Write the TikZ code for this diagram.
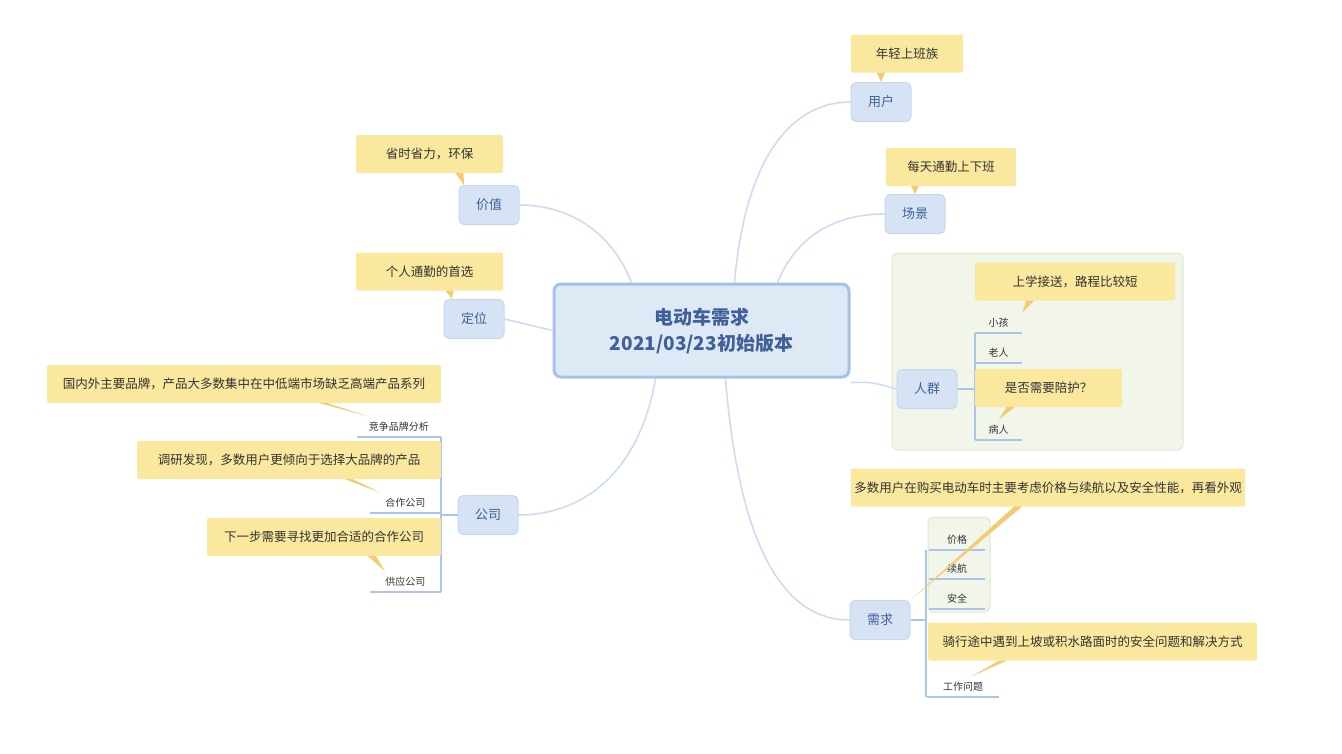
\documentclass[tikz,border=0pt]{standalone}
\usepackage{fontspec}
\setmainfont{Noto Sans CJK SC}
\definecolor{topicfill}{HTML}{D6E3F4}
\definecolor{topicline}{HTML}{C6D8EF}
\definecolor{topictext}{HTML}{40609A}
\definecolor{callfill}{HTML}{F9E89E}
\definecolor{calltext}{HTML}{333333}
\definecolor{ptrcolor}{HTML}{F3CB70}
\definecolor{areafill}{HTML}{F1F5EA}
\definecolor{arealine}{HTML}{DFE8D1}
\definecolor{linkcolor}{HTML}{CCDCF1}
\definecolor{leafline}{HTML}{A9C6EA}
\definecolor{mainline}{HTML}{A3C1EA}
%% callout pointer: callout node, shift along its bottom, target point
\newcommand{\callptr}[3]{\fill[ptrcolor] ([xshift=#2-4]#1.south) -- (#3) -- ([xshift=#2+4]#1.south) -- cycle;}

\begin{document}
\begin{tikzpicture}[x=1pt, y=-1pt,
    link/.style={linkcolor, line width=1.6pt},
    topic/.style={fill=topicfill, draw=topicline, line width=1pt, rounded corners=5pt,
      minimum width=60, minimum height=39, text=topictext, font=\fontsize{13}{15}\selectfont},
    callout/.style={fill=callfill, rounded corners=2pt, minimum height=38,
      text=calltext, font=\fontsize{12.5}{15}\selectfont},
    leaf/.style={inner sep=2pt, minimum height=20, text=calltext, font=\fontsize{10}{12}\selectfont},
    leafbar/.style={leafline, line width=1.2pt},
    area/.style={fill=areafill, draw=arealine, line width=1pt, rounded corners=6pt}]
  \useasboundingbox (0,0) rectangle (1342,753);
  %% boundaries behind everything
  \draw[area] (892,253) rectangle (1183,450);
  \draw[area] (928,517) rectangle (990,612);

  %% central topic
  \node[fill=topicfill!80!white, draw=mainline, line width=3pt, rounded corners=7pt,
    minimum width=295, minimum height=93, align=center, text=topictext,
    font=\fontsize{19}{26}\selectfont\bfseries] (central) at (701.5,330.5)
    {电动车需求\\2021/03/23初始版本};

  %% main topics
  \node[topic] (user)  at (881,102) {用户};
  \node[topic] (scene) at (915,214) {场景};
  \node[topic] (crowd) at (927,389) {人群};
  \node[topic] (need)  at (880,620) {需求};
  \node[topic] (value) at (489,205) {价值};
  \node[topic] (pos)   at (474,319) {定位};
  \node[topic] (firm)  at (488,515) {公司};

  \draw[link] ([xshift=33]central.north) .. controls (745,160) and (790,102) .. (user.west);
  \draw[link] ([xshift=76]central.north) .. controls (800,228) and (845,214) .. (scene.west);
  \draw[link] ([yshift=-4]central.south east) .. controls (872,382) .. (crowd.west);
  \draw[link] ([xshift=24]central.south) .. controls (740,560) and (790,620) .. (need.west);
  \draw[link] ([xshift=-70]central.north) .. controls (610,228) and (565,205) .. (value.east);
  \draw[link] (central.west) -- (pos.east);
  \draw[link] ([xshift=-46]central.south) .. controls (640,470) and (585,515) .. (firm.east);

  %% sub topics
  \foreach \t/\y/\n in {小孩/333/a, 老人/363/b, 病人/440/c}
    \node[leaf, anchor=south west, minimum width=47] (crowd\n) at (975,\y) {\t};
  \foreach \t/\y/\n in {价格/550/a, 续航/579/b, 安全/609/c}
    \node[leaf, anchor=south west, minimum width=56] (need\n) at (929,\y) {\t};
  \node[leaf, anchor=south west, minimum width=72] (needd) at (927,697) {工作问题};
  \node[leaf, anchor=south east, minimum width=84] (firma) at (441,437) {竞争品牌分析};
  \node[leaf, anchor=south east, minimum width=71] (firmb) at (441,513) {合作公司};
  \node[leaf, anchor=south east, minimum width=71] (firmc) at (441,592) {供应公司};

  \foreach \n in {a,b,c} {
    \draw[leafbar] (crowd\n.south west) -- (crowd\n.south east);
    \draw[leafbar] (need\n.south west) -- (need\n.south east);
    \draw[leafbar] (firm\n.south west) -- (firm\n.south east);
  }
  \draw[leafbar] (needd.south west) -- (needd.south east);
  \draw[leafbar] (crowda.south west) -- (crowdc.south west);
  \draw[leafbar] (crowd.east) -- (crowd.east -| crowda.south west);
  \draw[leafbar] ([xshift=-3]needa.south west) -- ([xshift=-1]needd.south west);
  \draw[leafbar] (need.east) -- (need.east -| needd.south west);
  \draw[leafbar] (firma.south east) -- (firmc.south east);
  \draw[leafbar] (firm.west) -- (firm.west -| firma.south east);

  %% callouts
  \node[callout, minimum width=112] (cuser)  at (907,53.5)   {年轻上班族};
  \node[callout, minimum width=130] (cscene) at (951,167)    {每天通勤上下班};
  \node[callout, minimum width=200] (ccrowd) at (1075,281.5) {上学接送，路程比较短};
  \node[callout, minimum width=147] (csick)  at (1048.5,388) {是否需要陪护？};
  \node[callout, minimum width=394] (cneed)  at (1048,487.5)
    {多数用户在购买电动车时主要考虑价格与续航以及安全性能，再看外观};
  \node[callout, minimum width=329] (cwork)  at (1092.5,641.5)
    {骑行途中遇到上坡或积水路面时的安全问题和解决方式};
  \node[callout, minimum width=147] (cvalue) at (429.5,154)  {省时省力，环保};
  \node[callout, minimum width=147] (cpos)   at (429.5,271.5){个人通勤的首选};
  \node[callout, minimum width=394] (cfirma) at (244,384)
    {国内外主要品牌，产品大多数集中在中低端市场缺乏高端产品系列};
  \node[callout, minimum width=304] (cfirmb) at (289,460)
    {调研发现，多数用户更倾向于选择大品牌的产品};
  \node[callout, minimum width=234] (cfirmc) at (324,537)
    {下一步需要寻找更加合适的合作公司};

  \callptr{cuser}{-26}{user.north}
  \callptr{cscene}{-36}{scene.north}
  \callptr{ccrowd}{-45}{crowda.north east}
  \callptr{csick}{-38}{crowdc.north}
  \callptr{cneed}{-30}{need.north east}
  \callptr{cwork}{-90}{[xshift=8]needd.north}
  \callptr{cvalue}{30}{[xshift=-25]value.north}
  \callptr{cpos}{20}{[xshift=-22]pos.north}
  \callptr{cfirma}{80}{[xshift=-30]firma.north}
  \callptr{cfirmb}{60}{[xshift=-25]firmb.north}
  \callptr{cfirmc}{48}{[xshift=-20]firmc.north}
\end{tikzpicture}
\end{document}
